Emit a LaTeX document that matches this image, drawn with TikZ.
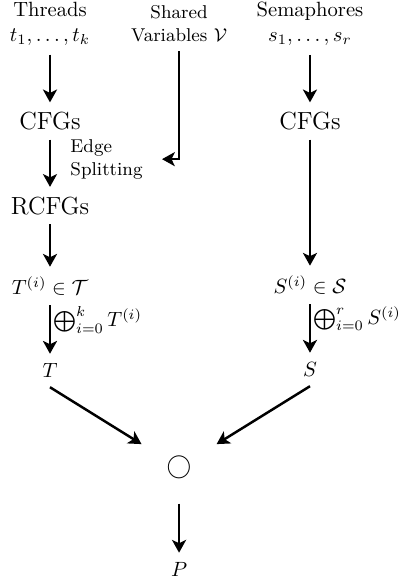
\documentclass[tikz,border=0pt]{standalone}
\usetikzlibrary{positioning,arrows.meta}
\tikzstyle{txt} = [text centered,align=center,inner sep=4.5pt]
\tikzstyle{lbl} = [font=\small,align=left]
\tikzstyle{op} = [inner sep=12pt]
\tikzstyle{arr} = [-{Stealth[length=6.2pt,width=6.8pt,inset=1.6pt]},line width=1.2pt]

\begin{document}
\begin{tikzpicture}[node distance=41pt]
    	\useasboundingbox (-24.25pt,11.4pt) rectangle (171.2pt,-270.4pt);

    	\node[txt](threads) {Threads\\$t_1,\dots,t_k$};
    	\node[txt,font=\small,xshift=21.6pt,right of=threads](shared) {Shared\\Variables $\mathcal{V}$};
    	\node[txt,xshift=22.5pt,right of=shared](semaphores) {Semaphores\\$s_1,\dots,s_r$};
    	\node[txt,font=\large,yshift=-6.3pt,below of=threads](cfgl) {CFGs};
    	\node[txt,font=\large,yshift=-6.3pt,below of=semaphores](cfgr) {CFGs};
    	\node[txt,font=\large,below of=cfgl](rcfgs) {RCFGs};
    	\node[txt,yshift=2pt,below of=rcfgs](tl) {$T^{(i)}\in\mathcal{T}$};
    	\node[txt,yshift=-38.5pt,below of=cfgr](sr) {$S^{(i)}\in\mathcal{S}$};
    	\node[txt,below of=tl](tt) {$T$};
    	\node[txt,below of=sr](ss) {$S$};
    	\node[txt,op,font=\large,xshift=62.6pt,yshift=-6pt,below of=tt](comp) {$\bigcirc$};
    	\node[txt,yshift=-8.5pt,below of=comp](prog) {$P$};

    	\draw[arr] (threads) -- (cfgl);
    	\draw[arr] (cfgl) -- node[lbl,right,xshift=6pt,yshift=2pt](split) {Edge\\Splitting} (rcfgs);
    	\draw[arr] (rcfgs) -- (tl);
    	\draw[arr] (tl) -- node[right,pos=0.3,inner sep=1pt](sumt) {$\bigoplus_{i=0}^k T^{(i)}$} (tt);
    	\draw[arr] (semaphores) -- (cfgr);
    	\draw[arr] (cfgr) -- (sr);
    	\draw[arr] (sr) -- node[right,pos=0.3,inner sep=1pt](sums) {$\bigoplus_{i=0}^r S^{(i)}$} (ss);
    	\draw[arr,shorten >=5.5pt] (shared) |- (split);
    	\draw[arr] (tt.south) -- (comp);
    	\draw[arr] (ss.south) -- (comp);
    	\draw[arr] (comp) -- (prog);

\end{tikzpicture}
\end{document}
